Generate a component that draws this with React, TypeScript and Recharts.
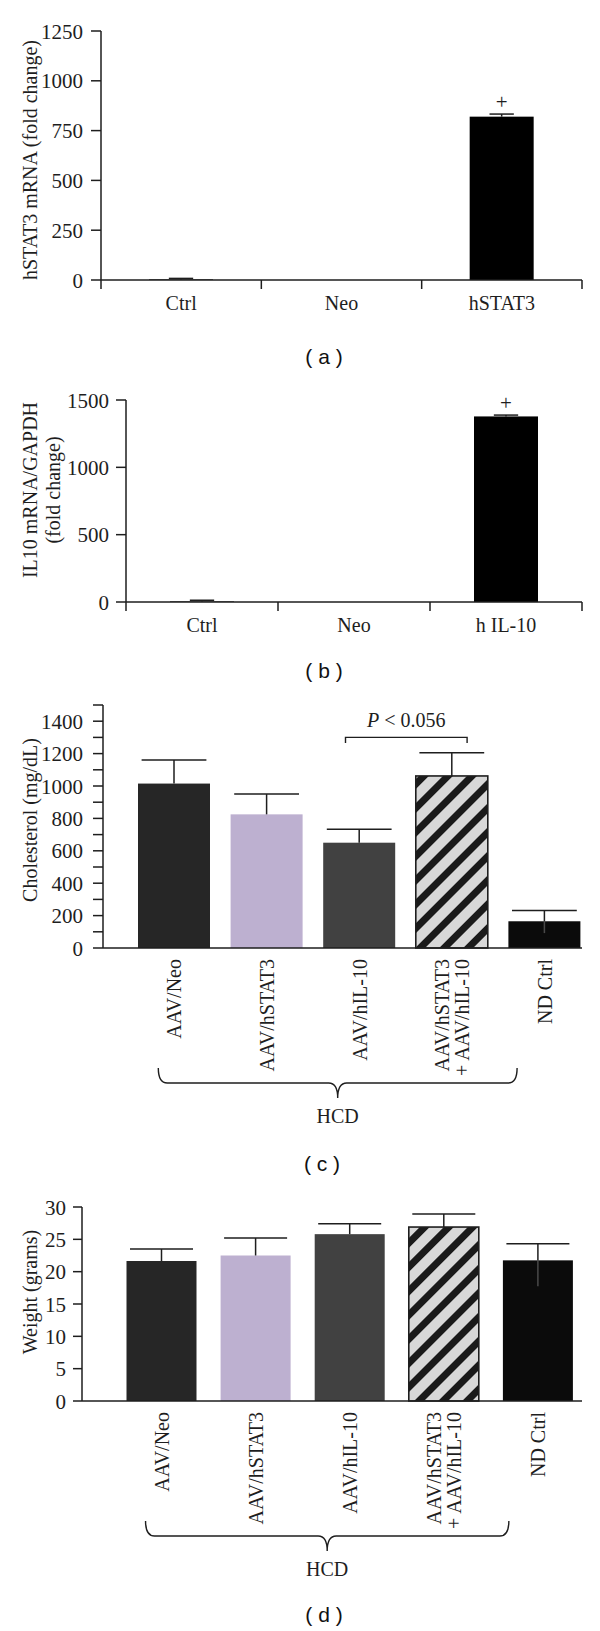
import React from "react";
import { BarChart, Bar, XAxis, YAxis, ReferenceArea } from "recharts";

// ---- values ----
// (a) hSTAT3 mRNA (fold change)
const stat3Categories = ["Ctrl", "Neo", "hSTAT3"];
const stat3Values = [3, 0, 820];
const stat3Errors = [5, 0, 13];
const stat3Marks = ["", "", "+"];
const stat3Ticks = [0, 250, 500, 750, 1000, 1250];

// (b) IL10 mRNA/GAPDH (fold change)
const il10Categories = ["Ctrl", "Neo", "h IL-10"];
const il10Values = [4, 0, 1378];
const il10Errors = [9, 0, 10];
const il10Marks = ["", "", "+"];
const il10Ticks = [0, 500, 1000, 1500];

// (c) + (d) groups
const groupLabels = [["AAV/Neo"], ["AAV/hSTAT3"], ["AAV/hIL-10"], ["AAV/hSTAT3", "+ AAV/hIL-10"], ["ND Ctrl"]];
const groupNames = groupLabels.map((l) => l.join(" "));
const cholValues = [1015, 825, 650, 1062, 165];
const cholErrUp = [145, 125, 83, 144, 67];
const cholErrDown = [0, 0, 0, 0, 73];
const cholTicks = [0, 100, 200, 300, 400, 500, 600, 700, 800, 900, 1000, 1100, 1200, 1300, 1400, 1500];
const cholLabelStep = 200;
const cholLabelMax = 1400;
const pValueText = "< 0.056";
const pValuePair = [groupNames[2], groupNames[3]];
const pValueSpan = [1265, 1300];

const weightValues = [21.65, 22.5, 25.8, 26.9, 21.75];
const weightErrUp = [1.85, 2.7, 1.6, 2.0, 2.55];
const weightErrDown = [0, 0, 0, 0, 4];
const weightTicks = [0, 5, 10, 15, 20, 25, 30];

// ---- styles ----
const SERIF = '"Liberation Serif", "Times New Roman", serif';
const SANS = '"Liberation Sans", Arial, sans-serif';
const INK = "#1e1e1e";
const groupFills = ["#262626", "#bdb0d0", "#414141", "hatch", "#0b0b0b"];

const axisLine = { stroke: INK, strokeWidth: 1.5 };
const serifStyle = (size: number) => ({ fontFamily: SERIF, fontSize: size, fill: INK });

function ErrShape(props: any) {
  const { x, y, width, height, payload, capRatio, hatchId } = props;
  if (x == null || width == null) return null;
  const v = payload.value;
  const k = v > 0 ? height / v : 0;
  const cx = x + width / 2;
  const top = y - payload.up * k;
  const bottom = y + payload.down * k;
  const cap = width * capRatio;
  const hatched = payload.fill === "hatch";
  return (
    <g>
      {height > 0 && (
        <rect
          x={x}
          y={y}
          width={width}
          height={height}
          fill={hatched ? `url(#${hatchId})` : payload.fill}
          stroke={hatched ? INK : "none"}
          strokeWidth={hatched ? 1.6 : 0}
        />
      )}
      {k > 0 && payload.up > 0 && (
        <g stroke={INK} strokeWidth={1.5}>
          <line x1={cx} y1={y} x2={cx} y2={top} />
          <line x1={cx - cap} y1={top} x2={cx + cap} y2={top} />
        </g>
      )}
      {k > 0 && payload.down > 0 && (
        <line x1={cx} y1={y} x2={cx} y2={bottom} stroke="#4a4a4a" strokeWidth={1.5} />
      )}
      {payload.mark ? (
        <text x={cx} y={top - 5} textAnchor="middle" style={serifStyle(21)}>
          {payload.mark}
        </text>
      ) : null}
    </g>
  );
}

// category label with tick marks on the band boundaries
function BoundaryTick(props: any) {
  const { x, y, payload, index, bw, count } = props;
  return (
    <g>
      <line x1={x - bw / 2} y1={y} x2={x - bw / 2} y2={y + 9} stroke={INK} strokeWidth={1.5} />
      {index === count - 1 && (
        <line x1={x + bw / 2} y1={y} x2={x + bw / 2} y2={y + 9} stroke={INK} strokeWidth={1.5} />
      )}
      <text x={x} y={y + 16} dy="0.71em" textAnchor="middle" style={serifStyle(20)}>
        {payload.value}
      </text>
    </g>
  );
}

// rotated group label; the first one also draws the HCD brace
function GroupTick(props: any) {
  const { x, y, index, bw } = props;
  const lines = groupLabels[index] || [];
  const ty = y + 11;
  const lh = 20;
  const n = lines.length;
  let brace = null;
  if (index === 0) {
    const x1 = x - 16;
    const x2 = x + 3 * bw + 65;
    const xm = (x1 + x2) / 2;
    const yt = y + 120;
    const ym = y + 135;
    const yb = y + 150;
    const d = `M${x1},${yt} Q${x1},${ym} ${x1 + 9},${ym} L${xm - 9},${ym} Q${xm},${ym} ${xm},${yb} Q${xm},${ym} ${xm + 9},${ym} L${x2 - 9},${ym} Q${x2},${ym} ${x2},${yt}`;
    brace = (
      <g>
        <path d={d} fill="none" stroke={INK} strokeWidth={1.4} />
        <text x={xm} y={y + 175} textAnchor="middle" style={serifStyle(20)}>
          HCD
        </text>
      </g>
    );
  }
  return (
    <g>
      <text transform={`rotate(-90 ${x} ${ty})`} x={x} y={ty} textAnchor="end" style={serifStyle(20)}>
        {lines.map((l, i) => (
          <tspan key={i} x={x} dy={i === 0 ? 7 - ((n - 1) * lh) / 2 : lh}>
            {l}
          </tspan>
        ))}
      </text>
      {brace}
    </g>
  );
}

function ValueTick(props: any) {
  const { x, y, payload, step, max } = props;
  const v = payload.value;
  if (step && (v % step !== 0 || v > max)) return null;
  return (
    <text x={x} y={y} dy="0.36em" textAnchor="end" style={serifStyle(21)}>
      {String(v)}
    </text>
  );
}

function PBracket(props: any) {
  const { x, y, width, height, bw } = props;
  if (x == null) return null;
  const half = width > 1.5 * bw ? bw / 2 : 0;
  const lx = x + half - 14;
  const rx = x + width - half + 15;
  const yb = y + height;
  return (
    <g>
      <path d={`M${lx},${yb} L${lx},${y} L${rx},${y} L${rx},${yb}`} fill="none" stroke={INK} strokeWidth={1.4} />
      <text x={(lx + rx) / 2} y={y - 10} textAnchor="middle" style={serifStyle(20)}>
        <tspan fontStyle="italic">P</tspan> {pValueText}
      </text>
    </g>
  );
}

const stat3Rows = stat3Categories.map((name, i) => ({
  name,
  value: stat3Values[i],
  up: stat3Errors[i],
  down: 0,
  mark: stat3Marks[i],
  fill: "#000",
}));
const il10Rows = il10Categories.map((name, i) => ({
  name,
  value: il10Values[i],
  up: il10Errors[i],
  down: 0,
  mark: il10Marks[i],
  fill: "#000",
}));
const cholRows = groupNames.map((name, i) => ({
  name,
  value: cholValues[i],
  up: cholErrUp[i],
  down: cholErrDown[i],
  mark: "",
  fill: groupFills[i],
}));
const weightRows = groupNames.map((name, i) => ({
  name,
  value: weightValues[i],
  up: weightErrUp[i],
  down: weightErrDown[i],
  mark: "",
  fill: groupFills[i],
}));

function YTitle({ lines, cx, cy }: { lines: string[]; cx: number; cy: number }) {
  const lh = 23;
  const n = lines.length;
  return (
    <text transform={`rotate(-90 ${cx} ${cy})`} x={cx} y={cy} textAnchor="middle" style={serifStyle(20)}>
      {lines.map((l, i) => (
        <tspan key={i} x={cx} dy={i === 0 ? 7 - ((n - 1) * lh) / 2 : lh}>
          {l}
        </tspan>
      ))}
    </text>
  );
}

function Caption({ text, cx, cy }: { text: string; cx: number; cy: number }) {
  return (
    <text x={cx} y={cy} dy="0.35em" textAnchor="middle" style={{ fontFamily: SANS, fontSize: 21, fill: "#111" }}>
      {text}
    </text>
  );
}

const hatchDefs = (
  <svg width={0} height={0} style={{ position: "absolute" }}>
    <defs>
      {["hatchC", "hatchD"].map((id) => (
        <pattern key={id} id={id} patternUnits="userSpaceOnUse" width={17} height={17} patternTransform="rotate(45)">
          <rect width={17} height={17} fill="#d8d8d8" />
          <rect width={7} height={17} fill="#1a1a1a" />
        </pattern>
      ))}
    </defs>
  </svg>
);

export default function App() {
  const bwA = 481 / 3;
  const bwB = 456 / 3;
  const bwC = (479 - 25 + 9) / 5;
  const bwD = (500 - 32.5 + 3) / 5;
  return (
    <div style={{ position: "absolute", left: 0, top: 0, width: 600, height: 1631, background: "#fff" }}>
      {hatchDefs}

      {/* (a) */}
      <div style={{ position: "absolute", left: 0, top: 0 }}>
        <BarChart width={600} height={330} data={stat3Rows} margin={{ top: 31, right: 18, bottom: 20, left: 0 }}>
          <XAxis
            dataKey="name"
            height={30}
            interval={0}
            tickSize={0}
            tickMargin={0}
            tickLine={false}
            axisLine={axisLine}
            tick={(p: any) => <BoundaryTick {...p} bw={bwA} count={3} />}
          />
          <YAxis
            width={101}
            domain={[0, 1250]}
            ticks={stat3Ticks}
            interval={0}
            tickSize={10}
            tickMargin={8}
            axisLine={axisLine}
            tickLine={axisLine}
            tick={(p: any) => <ValueTick {...p} />}
          />
          <Bar dataKey="value" barSize={64} isAnimationActive={false} shape={(p: any) => <ErrShape {...p} capRatio={0.19} />} />
        </BarChart>
      </div>

      {/* (b) */}
      <div style={{ position: "absolute", left: 0, top: 370 }}>
        <BarChart width={600} height={270} data={il10Rows} margin={{ top: 30, right: 18, bottom: 8, left: 0 }}>
          <XAxis
            dataKey="name"
            height={30}
            interval={0}
            tickSize={0}
            tickMargin={0}
            tickLine={false}
            axisLine={axisLine}
            tick={(p: any) => <BoundaryTick {...p} bw={bwB} count={3} />}
          />
          <YAxis
            width={126}
            domain={[0, 1500]}
            ticks={il10Ticks}
            interval={0}
            tickSize={10}
            tickMargin={7}
            axisLine={axisLine}
            tickLine={axisLine}
            tick={(p: any) => <ValueTick {...p} />}
          />
          <Bar dataKey="value" barSize={64} isAnimationActive={false} shape={(p: any) => <ErrShape {...p} capRatio={0.19} />} />
        </BarChart>
      </div>

      {/* (c) */}
      <div style={{ position: "absolute", left: 0, top: 690 }}>
        <BarChart width={600} height={450} data={cholRows} margin={{ top: 15, right: 18, bottom: 12, left: 0 }}>
          <XAxis
            dataKey="name"
            height={180}
            interval={0}
            tickSize={0}
            tickMargin={0}
            tickLine={false}
            axisLine={axisLine}
            padding={{ left: 25, right: -9 }}
            tick={(p: any) => <GroupTick {...p} bw={bwC} />}
          />
          <YAxis
            width={103}
            domain={[0, 1500]}
            ticks={cholTicks}
            interval={0}
            tickSize={10}
            tickMargin={10}
            axisLine={axisLine}
            tickLine={axisLine}
            tick={(p: any) => <ValueTick {...p} step={cholLabelStep} max={cholLabelMax} />}
          />
          <Bar
            dataKey="value"
            barSize={72}
            isAnimationActive={false}
            shape={(p: any) => <ErrShape {...p} capRatio={0.45} hatchId="hatchC" />}
          />
          <ReferenceArea
            x1={pValuePair[0]}
            x2={pValuePair[1]}
            y1={pValueSpan[0]}
            y2={pValueSpan[1]}
            shape={(p: any) => <PBracket {...p} bw={bwC} />}
          />
        </BarChart>
      </div>

      {/* (d) */}
      <div style={{ position: "absolute", left: 0, top: 1190 }}>
        <BarChart width={600} height={400} data={weightRows} margin={{ top: 17, right: 18, bottom: 9, left: 0 }}>
          <XAxis
            dataKey="name"
            height={180}
            interval={0}
            tickSize={0}
            tickMargin={0}
            tickLine={false}
            axisLine={axisLine}
            padding={{ left: 32.5, right: -3 }}
            tick={(p: any) => <GroupTick {...p} bw={bwD} />}
          />
          <YAxis
            width={82}
            domain={[0, 30]}
            ticks={weightTicks}
            interval={0}
            tickSize={9}
            tickMargin={7}
            axisLine={axisLine}
            tickLine={axisLine}
            tick={(p: any) => <ValueTick {...p} />}
          />
          <Bar
            dataKey="value"
            barSize={70}
            isAnimationActive={false}
            shape={(p: any) => <ErrShape {...p} capRatio={0.45} hatchId="hatchD" />}
          />
        </BarChart>
      </div>

      {/* titles and panel captions */}
      <svg width={600} height={1631} style={{ position: "absolute", left: 0, top: 0, pointerEvents: "none" }}>
        <YTitle lines={["hSTAT3 mRNA (fold change)"]} cx={29.5} cy={160} />
        <YTitle lines={["IL10 mRNA/GAPDH", "(fold change)"]} cx={41.5} cy={490} />
        <YTitle lines={["Cholesterol (mg/dL)"]} cx={29.5} cy={820} />
        <YTitle lines={["Weight (grams)"]} cx={29.5} cy={1292} />
        <Caption text="( a )" cx={324} cy={357} />
        <Caption text="( b )" cx={324} cy={671} />
        <Caption text="( c )" cx={322} cy={1164} />
        <Caption text="( d )" cx={324} cy={1615} />
      </svg>
    </div>
  );
}
